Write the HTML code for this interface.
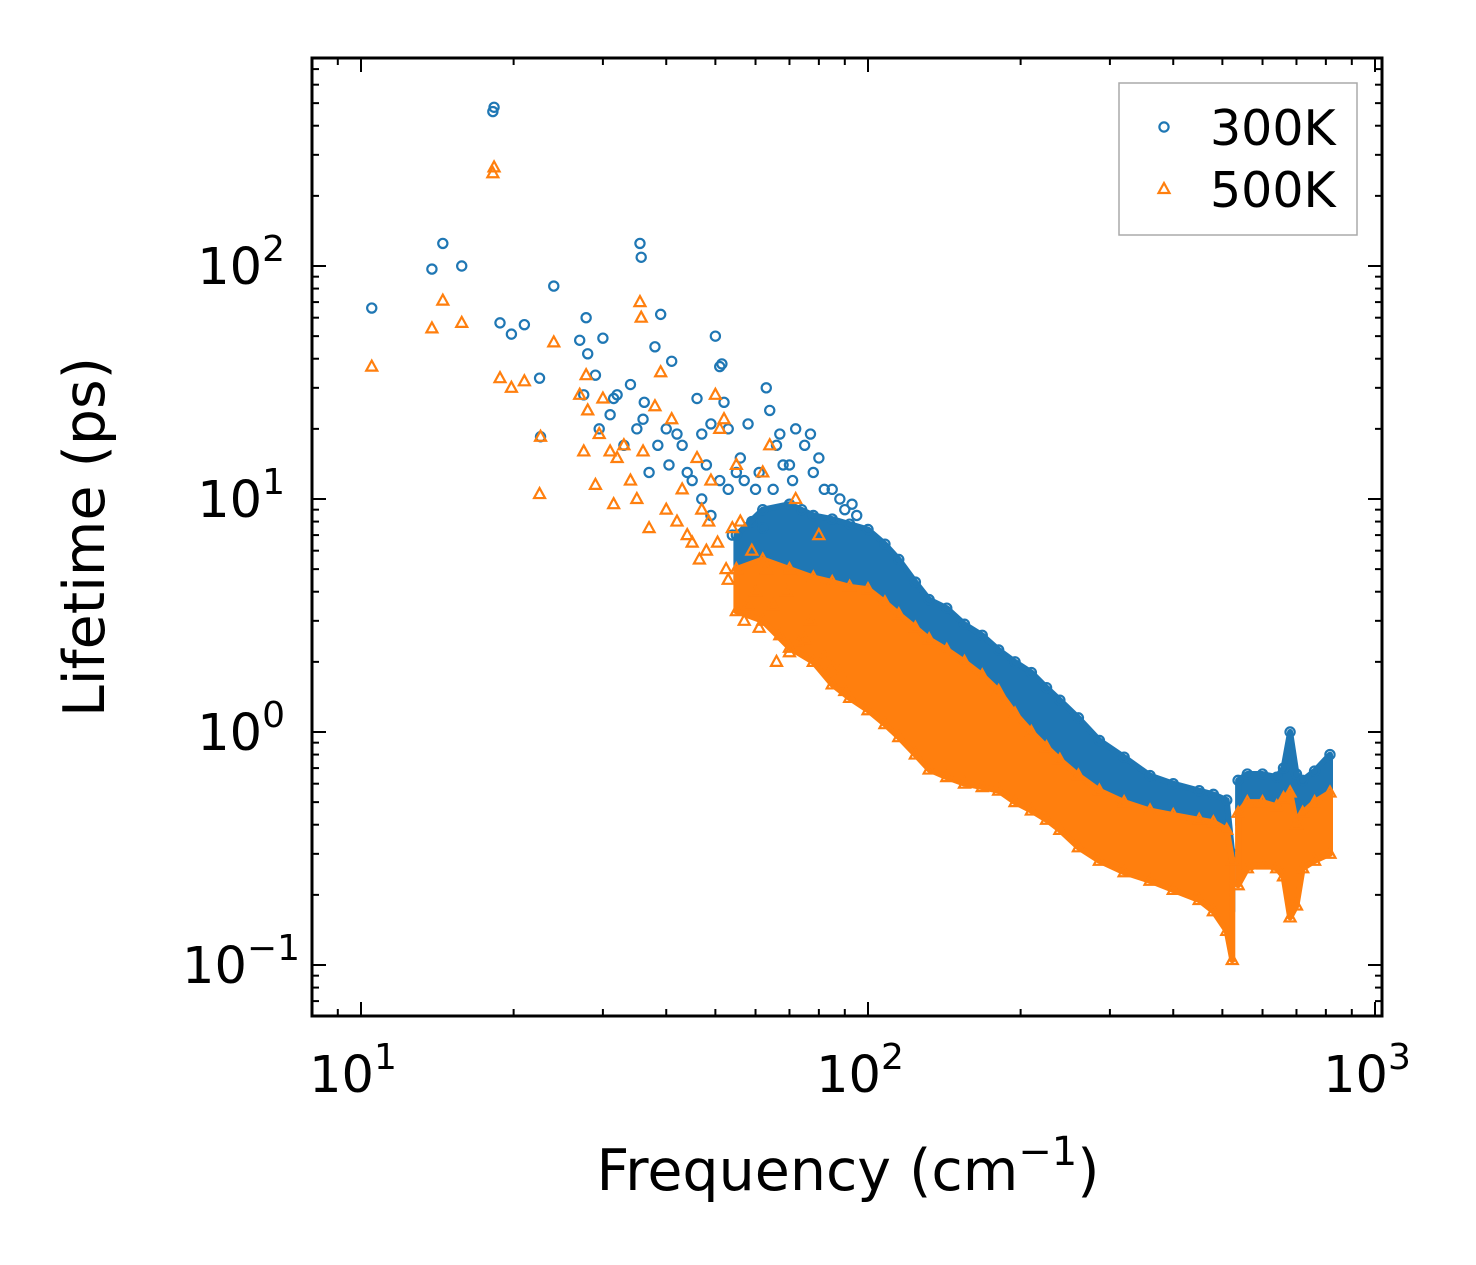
<!DOCTYPE html>
<html><head><meta charset="utf-8"><style>
html,body{margin:0;padding:0;background:#fff;}
svg{display:block;font-family:"DejaVu Sans","Liberation Sans",sans-serif;}
</style></head><body>
<svg id="chart" width="1476" height="1265" viewBox="0 0 1476 1265" xmlns="http://www.w3.org/2000/svg">
<rect x="0" y="0" width="1476" height="1265" fill="#fff"/>
<g id="plot"></g>
<g id="axes"></g>
</svg>
<script>
// ---- data ----
const sparseF300 = [10.5,13.8,14.5,15.8,18.2,18.3,18.8,19.8,21,22.5,22.6,24,27,27.5,27.8,28,29,29.5,30,31,31.5,32,33,34,35,35.5,35.7,36,36.2,37,38,38.5,39,40,40.5,41,42,43,44,45,46,47,48,49,50,51,51.5,52,53,55,56,58,60,63,64,66,67,70,72,75,77,80,85,90,47,49,51,53,54,57,59,61,62,65,68,71,74,78,82,88,93,95];
const sparseV300 = [66,97,125,100,460,480,57,51,56,33,18.5,82,48,28,60,42,34,20,49,23,27,28,17,31,20,125,109,22,26,13,45,17,62,20,14,39,19,17,13,12,27,19,14,21,50,37,38,26,20,13,15,21,11,30,24,17,19,14,20,17,19,15,11,9,10,8.5,12,11,7,12,8,13,7.5,11,14,12,9,13,11,10,9.5,8.5];
const sparseF500 = [10.5,13.8,14.5,15.8,18.2,18.3,18.8,19.8,21,22.5,22.6,24,27,27.5,27.8,28,29,29.5,30,31,31.5,32,33,34,35,35.5,35.7,36,37,38,39,40,41,42,43,45,46,47,48,49,50,51,52,53,55,56,58,60,62,64,66,70,72,75,80,85,90,44,46.5,48.5,50.5,52.5,54,57,59,61,63,65,67,69,73,77,82,88];
const sparseV500 = [37,54,71,57,250,265,33,30,32,10.5,18.5,47,28,16,34,24,11.5,19,27,16,9.5,15,17,12,10,70,60,16,7.5,25,35,9,22,8,11,6.5,15,9,6,12,28,20,22,4.5,14,8,3.5,4,13,17,2,2.2,10,2.5,7,1.9,1.5,7,5.5,8,6.5,5,7.5,3,6,2.8,5,3.5,2.6,4,2.4,3,2.1,1.8];
// dense band envelopes (main segment)
const bandF = [55,62,70,78,85,92,100,108,115,124,132,143,155,168,181,195,210,225,239,260,286,320,360,400,450,480,510,523];
const hi300 = [7,9,9.5,8.5,8.2,7.8,7.4,6.4,5.5,4.4,3.7,3.4,2.9,2.6,2.25,2.0,1.8,1.55,1.37,1.15,0.92,0.78,0.65,0.6,0.56,0.54,0.51,0.3];
const lo300 = [4.5,4.6,4.5,4.3,4.2,4.1,4,3.6,3.3,2.8,2.4,2.2,1.9,1.65,1.4,1.2,1.0,0.85,0.75,0.65,0.55,0.5,0.45,0.42,0.4,0.38,0.3,0.17];
const hi500 = [5,5.5,5,4.6,4.4,4.2,4.1,3.6,3.2,2.8,2.5,2.25,2,1.75,1.5,1.2,1.0,0.86,0.76,0.65,0.56,0.5,0.46,0.44,0.42,0.41,0.38,0.28];
const lo500 = [3.3,3,2.3,2,1.6,1.4,1.24,1.08,0.95,0.8,0.69,0.64,0.6,0.58,0.56,0.5,0.46,0.42,0.38,0.32,0.28,0.25,0.23,0.21,0.19,0.17,0.14,0.105];
// dense band envelopes (high-frequency segment)
const bandF2 = [537,560,600,640,660,680,700,720,760,815];
const hi300b = [0.62,0.66,0.66,0.64,0.7,1.0,0.66,0.62,0.68,0.8];
const lo300b = [0.4,0.45,0.45,0.44,0.45,0.5,0.38,0.42,0.45,0.5];
const hi500b = [0.45,0.5,0.5,0.48,0.52,0.55,0.4,0.45,0.5,0.55];
const lo500b = [0.22,0.26,0.27,0.26,0.24,0.16,0.18,0.26,0.28,0.3];
const xTicks = [1,2,3];
const yTicks = [-1,0,1,2];

// ---- axes functions ----
const L=312,R=1382,T=58,B=1016;
const X = f => 361 + (Math.log10(f)-1)*507;
const Y = v => 266 - (Math.log10(v)-2)*233;
const NS='http://www.w3.org/2000/svg';
const plot=document.getElementById('plot'), axes=document.getElementById('axes');
const C300='#1f77b4', C500='#ff7f0e';
function mk(tag,attrs,parent){const e=document.createElementNS(NS,tag);for(const k in attrs)e.setAttribute(k,attrs[k]);parent.appendChild(e);return e;}

function band(F,hi,lo,color,name){
  const pts=[];
  for(let i=0;i<F.length;i++)pts.push(X(F[i]).toFixed(1)+','+Y(hi[i]).toFixed(1));
  for(let i=F.length-1;i>=0;i--)pts.push(X(F[i]).toFixed(1)+','+Y(lo[i]).toFixed(1));
  const p=mk('polygon',{points:pts.join(' '),fill:color,stroke:color,'stroke-width':6,'stroke-linejoin':'round'},plot);
  
  
}
function circ(f,v){
  const c=mk('circle',{cx:X(f),cy:Y(v),r:4.6,fill:'none',stroke:C300,'stroke-width':2.2},plot);
  
  
}
function tri(f,v){
  const x=X(f),y=Y(v);
  const t=mk('polygon',{points:`${x},${y-6} ${x-5.5},${y+4} ${x+5.5},${y+4}`,fill:'none',stroke:C500,'stroke-width':2.2,'stroke-linejoin':'miter'},plot);
  
  
}

// 300K
band(bandF,hi300,lo300,C300,'band-300k');
band(bandF2,hi300b,lo300b,C300,'band-300k-high');
for(let i=0;i<sparseF300.length;i++)circ(sparseF300[i],sparseV300[i]);
for(let i=0;i<bandF.length;i++)circ(bandF[i],hi300[i]);
for(let i=0;i<bandF2.length;i++)circ(bandF2[i],hi300b[i]);
// 500K
band(bandF,hi500,lo500,C500,'band-500k');
band(bandF2,hi500b,lo500b,C500,'band-500k-high');
for(let i=0;i<sparseF500.length;i++)tri(sparseF500[i],sparseV500[i]);
for(let i=0;i<bandF.length;i++){tri(bandF[i],hi500[i]);tri(bandF[i],lo500[i]);}
for(let i=0;i<bandF2.length;i++){tri(bandF2[i],hi500b[i]);tri(bandF2[i],lo500b[i]);}

// frame
const fr=mk('rect',{x:L,y:T,width:R-L,height:B-T,fill:'none',stroke:'#000','stroke-width':3},axes);



// x ticks
for(let d=0;d<=3;d++){
  for(let m=1;m<10;m++){
    const f=Math.pow(10,d)*m; const x=X(f);
    if(x<L||x>R)continue;
    const len=m===1?14:7;
    mk('line',{x1:x,y1:B,x2:x,y2:B-len,stroke:'#000','stroke-width':2},axes);
    mk('line',{x1:x,y1:T,x2:x,y2:T+len,stroke:'#000','stroke-width':2},axes);
  }
}
xTicks.forEach(p=>{
  const t=mk('text',{x:X(Math.pow(10,p))-8,y:1092,'font-size':51,'text-anchor':'middle'},axes);
  
  
  t.innerHTML='10<tspan dy="-23" font-size="36">'+p+'</tspan>';
});
// y ticks
for(let d=-2;d<=2;d++){
  for(let m=1;m<10;m++){
    const v=Math.pow(10,d)*m; const y=Y(v);
    if(y<T||y>B)continue;
    const len=m===1?14:7;
    mk('line',{x1:L,y1:y,x2:L+len,y2:y,stroke:'#000','stroke-width':2},axes);
    mk('line',{x1:R,y1:y,x2:R-len,y2:y,stroke:'#000','stroke-width':2},axes);
  }
}
yTicks.forEach(p=>{
  const t=mk('text',{x:p<0?300:285,y:Y(Math.pow(10,p))+18,'font-size':51,'text-anchor':'end'},axes);
  
  
  t.innerHTML='10<tspan dy="-23" font-size="36">'+(p<0?'\u2212'+(-p):p)+'</tspan>';
});
// axis titles
const xt=mk('text',{x:848,y:1190,'font-size':57,'text-anchor':'middle'},axes);


xt.innerHTML='Frequency (cm<tspan dy="-25" font-size="40">\u22121</tspan><tspan dy="25">)</tspan>';
const yt=mk('text',{x:0,y:0,'font-size':57,'text-anchor':'middle',transform:'translate(104,537) rotate(-90)'},axes);


yt.textContent='Lifetime (ps)';

// legend
const lg=mk('g',{},axes);


mk('rect',{x:1119,y:83,width:238,height:152,fill:'#fff',stroke:'#aaa','stroke-width':1.5},lg);
mk('circle',{cx:1164,cy:127,r:4.6,fill:'none',stroke:C300,'stroke-width':2.2},lg);
mk('polygon',{points:'1164,183 1158.5,193 1169.5,193',fill:'none',stroke:C500,'stroke-width':2.2},lg);
const l1=mk('text',{x:1210,y:145,'font-size':49},lg);


l1.textContent='300K';
const l2=mk('text',{x:1210,y:207,'font-size':49},lg);


l2.textContent='500K';
</script>
</body></html>
